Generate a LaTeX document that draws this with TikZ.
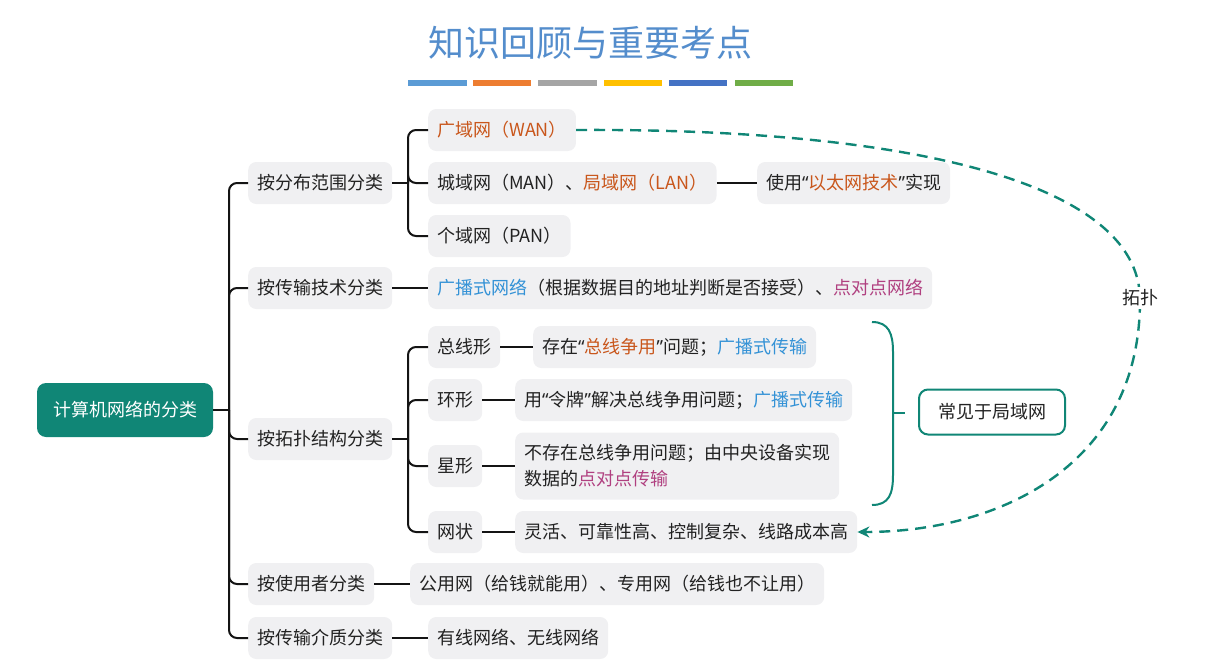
\documentclass[tikz,border=0pt]{standalone}
\usepackage{fontspec}
\setmainfont{Noto Sans CJK SC}
\newfontfamily\qf{Noto Sans}
\usetikzlibrary{arrows.meta}
\definecolor{boxgray}{RGB}{240,240,242}
\definecolor{txt}{RGB}{34,34,34}
\definecolor{tealc}{RGB}{16,134,118}
\definecolor{orgc}{RGB}{201,86,27}
\definecolor{bluec}{RGB}{52,146,214}
\definecolor{magc}{RGB}{176,64,128}
\definecolor{titlec}{RGB}{84,141,204}
\definecolor{bA}{RGB}{91,155,213}
\definecolor{bB}{RGB}{237,125,49}
\definecolor{bC}{RGB}{165,165,165}
\definecolor{bD}{RGB}{255,192,0}
\definecolor{bE}{RGB}{68,114,196}
\definecolor{bF}{RGB}{112,173,71}
\newcommand\fs{\fontsize{18}{26}\selectfont}
\newcommand\myq[1]{{\qf “}#1{\qf ”}}
\tikzset{
  mbox/.style={fill=boxgray, rounded corners=8pt, inner xsep=9pt, inner ysep=0pt,
    minimum height=42pt, anchor=west, text=txt, font=\fs},
  conn/.style={line width=2pt, draw=black!92, rounded corners=8pt},
  tealline/.style={line width=2pt, draw=tealc},
  dasharrow/.style={line width=2.4pt, draw=tealc, dash pattern=on 11pt off 7pt,
    -{Stealth[length=12pt,width=11pt]}},
}
\begin{document}
\begin{tikzpicture}[x=1pt,y=-1pt]
\useasboundingbox (0,0) rectangle (1205,661);
% title
\node[font=\fontsize{36}{40}\selectfont, text=titlec] (title) at (590,43) {知识回顾与重要考点};
\fill[bA] (408,80) rectangle (467,86);
\fill[bB] (473,80) rectangle (531,86);
\fill[bC] (538,80) rectangle (597,86);
\fill[bD] (604,80) rectangle (662,86);
\fill[bE] (669,80) rectangle (727,86);
\fill[bF] (735,80) rectangle (793,86);
% root
\node[fill=tealc, rounded corners=9pt, text=white, font=\fs, minimum width=176pt, minimum height=54pt, inner sep=0pt] (root) at (125,410) {计算机网络的分类};
% level 1
\node[mbox] (a) at (248,183) {按分布范围分类};
\node[mbox] (b) at (248,288) {按传输技术分类};
\node[mbox] (c) at (248,439) {按拓扑结构分类};
\node[mbox] (d) at (248,584) {按使用者分类};
\node[mbox] (e) at (248,638) {按传输介质分类};
% level 2
\node[mbox] (wan) at (428,130) {\textcolor{orgc}{广域网（WAN）}};
\node[mbox] (man) at (428,183) {城域网（MAN）、\textcolor{orgc}{局域网（LAN）}};
\node[mbox] (pan) at (428,236) {个域网（PAN）};
\node[mbox] (eth) at (757,183) {使用\myq{\textcolor{orgc}{以太网技术}}实现};
\node[mbox] (bc) at (428,288) {\textcolor{bluec}{广播式网络}（根据数据目的地址判断是否接受）、\textcolor{magc}{点对点网络}};
\node[mbox] (bus) at (428,347) {总线形};
\node[mbox] (ring) at (428,400) {环形};
\node[mbox] (star) at (428,466) {星形};
\node[mbox] (mesh) at (428,532) {网状};
\node[mbox] (busd) at (533,347) {存在\myq{\textcolor{orgc}{总线争用}}问题；\textcolor{bluec}{广播式传输}};
\node[mbox] (ringd) at (515,400) {用\myq{令牌}解决总线争用问题；\textcolor{bluec}{广播式传输}};
\node[mbox, minimum height=67pt, align=left] (stard) at (515,466) {不存在总线争用问题；由中央设备实现\\数据的\textcolor{magc}{点对点传输}};
\node[mbox] (meshd) at (515,532) {灵活、可靠性高、控制复杂、线路成本高};
\node[mbox] (user) at (410,584) {公用网（给钱就能用）、专用网（给钱也不让用）};
\node[mbox] (med) at (428,638) {有线网络、无线网络};
% LAN note
\node[draw=tealc, line width=2pt, fill=white, rounded corners=9pt, minimum width=146pt, minimum height=45pt, inner sep=0pt, text=txt, font=\fs] (lan) at (992,412) {常见于局域网};
% connectors level 1
\coordinate (j0) at (229,410);
\draw[conn] (root.east) -- (j0);
\foreach \n in {a,b,c,d,e} \draw[conn] (j0) |- (\n.west);
% group 1
\coordinate (j1) at (408,183);
\draw[conn] (a.east) -- (j1);
\foreach \n in {wan,man,pan} \draw[conn] (j1) |- (\n.west);
\draw[conn] (man.east) -- (eth.west);
\draw[conn] (b.east) -- (bc.west);
% topology group
\coordinate (j2) at (408,439);
\draw[conn] (c.east) -- (j2);
\foreach \n in {bus,ring,star,mesh} \draw[conn] (j2) |- (\n.west);
\draw[conn] (bus.east) -- (busd.west);
\draw[conn] (ring.east) -- (ringd.west);
\draw[conn] (star.east) -- (stard.west);
\draw[conn] (mesh.east) -- (meshd.west);
\draw[conn] (d.east) -- (user.west);
\draw[conn] (e.east) -- (med.west);
% brace
\draw[tealline] (872,322) .. controls (889,322) and (893,334) .. (893,352) -- (893,475) .. controls (893,494) and (889,505) .. (872,505);
\draw[tealline] (893,413) -- (905,413);
% dashed arrow
\draw[dasharrow] (wan.east) .. controls (900,128) and (1140,180) .. (1140,300) .. controls (1140,465) and (1000,532) .. (meshd.east);
\node[fill=white, font=\fs, text=txt, inner sep=3pt] (topo) at (1140,298) {拓扑};
\end{tikzpicture}
\end{document}
